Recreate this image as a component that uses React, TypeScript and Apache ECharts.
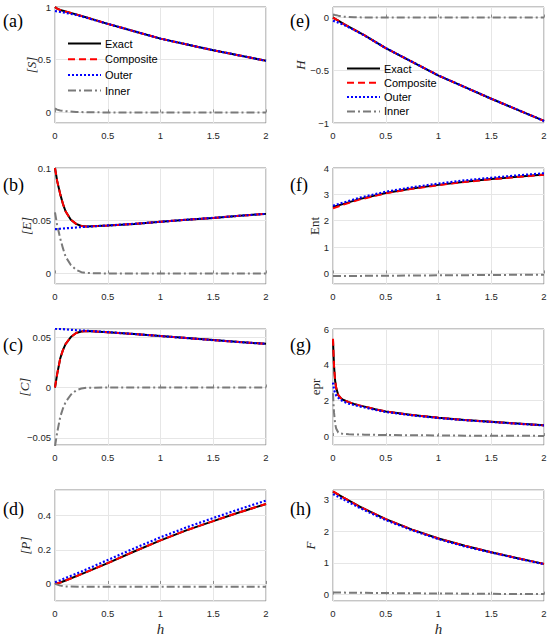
import React, { useEffect, useRef } from "react";
import * as echarts from "echarts";

// ---------- data ----------
// (a) [S]
const hA = [0, 0.02, 0.05, 0.1, 0.2, 0.3, 0.5, 0.75, 1, 1.25, 1.5, 1.75, 2];
const sExact = [1.0, 0.985, 0.972, 0.958, 0.93, 0.9, 0.84, 0.77, 0.7, 0.645, 0.59, 0.54, 0.49];
const sComposite = [1.0, 0.985, 0.971, 0.957, 0.93, 0.9, 0.84, 0.77, 0.7, 0.645, 0.59, 0.54, 0.49];
const sOuter = [0.962, 0.958, 0.953, 0.945, 0.925, 0.898, 0.84, 0.77, 0.7, 0.645, 0.59, 0.54, 0.49];
const sInner = [0.038, 0.027, 0.018, 0.012, 0.005, 0.002, 0, 0, 0, 0, 0, 0, 0];

// (e) H
const hE = [0, 0.02, 0.05, 0.1, 0.2, 0.3, 0.5, 0.75, 1, 1.25, 1.5, 1.75, 2];
const HExact = [0, -0.012, -0.03, -0.06, -0.115, -0.17, -0.29, -0.42, -0.55, -0.66, -0.77, -0.875, -0.98];
const HComposite = [0, -0.012, -0.03, -0.06, -0.115, -0.17, -0.29, -0.42, -0.55, -0.66, -0.77, -0.875, -0.98];
const HOuter = [-0.03, -0.037, -0.048, -0.068, -0.118, -0.171, -0.29, -0.42, -0.55, -0.66, -0.77, -0.875, -0.98];
const HInner = [0.03, 0.025, 0.018, 0.008, 0.003, 0.001, 0, 0, 0, 0, 0, 0, 0];

// (b) [E]
const hB = [0, 0.02, 0.05, 0.075, 0.1, 0.15, 0.2, 0.25, 0.3, 0.5, 0.75, 1, 1.25, 1.5, 1.75, 2];
const eExact = [0.1, 0.088, 0.075, 0.066, 0.059, 0.051, 0.047, 0.045, 0.0445, 0.0455, 0.047, 0.049, 0.051, 0.0527, 0.0547, 0.0565];
const eComposite = [0.1, 0.088, 0.075, 0.066, 0.059, 0.051, 0.047, 0.045, 0.0445, 0.0455, 0.047, 0.049, 0.051, 0.0527, 0.0547, 0.0565];
const eOuter = [0.042, 0.0421, 0.0424, 0.0426, 0.0428, 0.0432, 0.0436, 0.044, 0.0443, 0.0455, 0.047, 0.049, 0.051, 0.0527, 0.0547, 0.0565];
const eInner = [0.058, 0.046, 0.033, 0.024, 0.016, 0.008, 0.0035, 0.0012, 0.0004, 0, 0, 0, 0, 0, 0, 0];

// (f) Ent
const hF = [0, 0.1, 0.25, 0.5, 0.75, 1, 1.25, 1.5, 1.75, 2];
const entExact = [2.52, 2.64, 2.82, 3.05, 3.22, 3.36, 3.48, 3.58, 3.67, 3.75];
const entComposite = [2.47, 2.61, 2.8, 3.04, 3.21, 3.35, 3.47, 3.57, 3.66, 3.74];
const entOuter = [2.57, 2.69, 2.87, 3.1, 3.27, 3.41, 3.53, 3.63, 3.72, 3.8];
const entInner = [-0.1, -0.097, -0.093, -0.086, -0.079, -0.072, -0.065, -0.058, -0.051, -0.045];

// (c) [C]
const hC = [0, 0.02, 0.05, 0.075, 0.1, 0.15, 0.2, 0.25, 0.3, 0.5, 0.75, 1, 1.25, 1.5, 1.75, 2];
const cExact = [0, 0.013, 0.029, 0.037, 0.043, 0.05, 0.054, 0.0555, 0.056, 0.0548, 0.053, 0.051, 0.049, 0.047, 0.045, 0.0433];
const cComposite = [0, 0.013, 0.029, 0.037, 0.043, 0.05, 0.054, 0.0555, 0.056, 0.0548, 0.053, 0.051, 0.049, 0.047, 0.045, 0.0433];
const cOuter = [0.0583, 0.0582, 0.058, 0.0578, 0.0576, 0.0572, 0.0568, 0.0565, 0.0562, 0.0549, 0.053, 0.051, 0.049, 0.047, 0.045, 0.0433];
const cInner = [-0.0583, -0.045, -0.029, -0.0208, -0.0146, -0.0072, -0.0028, -0.001, -0.0002, 0, 0, 0, 0, 0, 0, 0];

// (g) epr
const hG = [0, 0.005, 0.01, 0.02, 0.03, 0.05, 0.075, 0.1, 0.15, 0.2, 0.25, 0.3, 0.4, 0.5, 0.75, 1, 1.25, 1.5, 1.75, 2];
const eprExact = [5.4, 4.6, 3.9, 3.1, 2.7, 2.3, 2.12, 2.02, 1.9, 1.8, 1.72, 1.65, 1.5, 1.38, 1.18, 1.03, 0.9, 0.8, 0.7, 0.6];
const eprComposite = [5.45, 4.6, 3.9, 3.1, 2.7, 2.3, 2.12, 2.02, 1.9, 1.8, 1.72, 1.65, 1.5, 1.38, 1.18, 1.03, 0.9, 0.8, 0.7, 0.6];
const eprOuter = [3.0, 2.8, 2.6, 2.4, 2.28, 2.15, 2.02, 1.93, 1.82, 1.74, 1.67, 1.6, 1.47, 1.35, 1.16, 1.01, 0.89, 0.79, 0.69, 0.6];
const eprInner = [2.4, 1.8, 1.3, 0.7, 0.42, 0.2, 0.14, 0.12, 0.1, 0.09, 0.085, 0.08, 0.07, 0.06, 0.045, 0.035, 0.025, 0.02, 0.015, 0.01];

// (d) [P]
const hD = [0, 0.05, 0.1, 0.25, 0.5, 0.75, 1, 1.25, 1.5, 1.75, 2];
const pExact = [0, 0.008, 0.02, 0.057, 0.122, 0.19, 0.255, 0.315, 0.368, 0.42, 0.468];
const pComposite = [0, 0.008, 0.02, 0.057, 0.122, 0.19, 0.255, 0.315, 0.368, 0.42, 0.468];
const pOuter = [0.01, 0.022, 0.035, 0.072, 0.14, 0.208, 0.273, 0.332, 0.386, 0.438, 0.488];
const pInner = [0, -0.01, -0.015, -0.017, -0.017, -0.017, -0.017, -0.017, -0.017, -0.017, -0.017];

// (h) F
const hH = [0, 0.1, 0.25, 0.5, 0.75, 1, 1.25, 1.5, 1.75, 2];
const fExact = [3.25, 3.06, 2.78, 2.38, 2.05, 1.77, 1.54, 1.34, 1.15, 0.97];
const fComposite = [3.26, 3.06, 2.78, 2.38, 2.05, 1.77, 1.54, 1.34, 1.15, 0.97];
const fOuter = [3.17, 3.0, 2.74, 2.35, 2.03, 1.75, 1.52, 1.33, 1.14, 0.96];
const fInner = [0.07, 0.065, 0.058, 0.05, 0.043, 0.037, 0.031, 0.026, 0.021, 0.017];

const seriesNames = ["Exact", "Composite", "Outer", "Inner"];
const xTickStep = 0.5;

// panels: label, y name, y range, tick step
const panels = [
  { label: "(a)", name: "[S]", italic: true, min: -0.1, max: 1, step: 0.5, h: hA, ys: [sExact, sComposite, sOuter, sInner], col: 0, row: 0, gap: 17 },
  { label: "(b)", name: "[E]", italic: true, min: -0.01, max: 0.1, step: 0.05, h: hB, ys: [eExact, eComposite, eOuter, eInner], col: 0, row: 1, gap: 22.5 },
  { label: "(c)", name: "[C]", italic: true, min: -0.057, max: 0.058, step: 0.05, h: hC, ys: [cExact, cComposite, cOuter, cInner], col: 0, row: 2, gap: 24.5 },
  { label: "(d)", name: "[P]", italic: true, min: -0.1, max: 0.55, step: 0.2, h: hD, ys: [pExact, pComposite, pOuter, pInner], col: 0, row: 3, gap: 23.5 },
  { label: "(e)", name: "H", italic: true, min: -1, max: 0.1, step: 0.5, h: hE, ys: [HExact, HComposite, HOuter, HInner], col: 1, row: 0, gap: 26.5 },
  { label: "(f)", name: "Ent", italic: false, min: -0.4, max: 4, step: 1, h: hF, ys: [entExact, entComposite, entOuter, entInner], col: 1, row: 1, gap: 12.5 },
  { label: "(g)", name: "epr", italic: false, min: -0.5, max: 6, step: 2, h: hG, ys: [eprExact, eprComposite, eprOuter, eprInner], col: 1, row: 2, gap: 11.5 },
  { label: "(h)", name: "F", italic: true, min: -0.2, max: 3.3, step: 1, h: hH, ys: [fExact, fComposite, fOuter, fInner], col: 1, row: 3, gap: 16.5 },
];

// ---------- layout / style ----------
const colLeft = [55, 333];
const rowTop = [7, 168, 329, 490];
const labelTop = [12, 176, 336, 500];
const plotW = 211;
const plotH = 116;
const lineStyles = [
  { color: "#000000", width: 2, type: "solid" as any },
  { color: "#ff0000", width: 2, type: [7, 4] as any },
  { color: "#0000ff", width: 2.2, type: [2, 2] as any },
  { color: "#7a7a7a", width: 2, type: [8, 3, 2, 3] as any },
];
const sansFont = "Liberation Sans, Arial, sans-serif";
const serifFont = "Liberation Serif, Times New Roman, serif";

function fmtTick(v: number, step: number) {
  const k = v / step;
  if (Math.abs(k - Math.round(k)) > 1e-6) return "";
  const val = Math.round(k) * step;
  const s = String(parseFloat(val.toFixed(6)));
  return s.replace("-", "\u2212");
}

export default function App() {
  const ref = useRef<HTMLDivElement>(null);
  useEffect(() => {
    if (!ref.current) return;
    const chart = echarts.init(ref.current, undefined, { renderer: "svg" });
    const grid: any[] = [];
    const xAxis: any[] = [];
    const yAxis: any[] = [];
    const series: any[] = [];
    const graphic: any[] = [];
    panels.forEach((p, i) => {
      grid.push({
        left: colLeft[p.col],
        top: rowTop[p.row],
        width: plotW,
        height: plotH,
        show: true,
        borderColor: "#8c8c8c",
        borderWidth: 1,
        backgroundColor: "#ffffff",
      });
      xAxis.push({
        type: "value",
        gridIndex: i,
        min: 0,
        max: 2,
        interval: xTickStep,
        name: p.row === 3 ? "h" : "",
        nameLocation: "middle",
        nameGap: 20,
        nameMoveOverlap: false,
        nameTextStyle: { fontFamily: serifFont, fontStyle: "italic", fontSize: 15, color: "#262626" },
        axisLine: { show: false },
        axisTick: { show: true, inside: true, length: 3, lineStyle: { color: "#8c8c8c" } },
        splitLine: { show: true, lineStyle: { color: "#e6e6e6", width: 1 } },
        axisLabel: {
          fontFamily: sansFont,
          fontSize: 9.5,
          color: "#262626",
          margin: 7,
          formatter: (v: number) => fmtTick(v, xTickStep),
        },
      });
      yAxis.push({
        type: "value",
        gridIndex: i,
        min: p.min,
        max: p.max,
        minInterval: p.step,
        maxInterval: p.step,
        name: p.name,
        nameLocation: "middle",
        nameGap: p.gap,
        nameMoveOverlap: false,
        nameRotate: 90,
        nameTextStyle: {
          fontFamily: serifFont,
          fontStyle: p.italic ? "italic" : "normal",
          fontSize: 13,
          color: "#262626",
        },
        axisLine: { show: false },
        axisTick: { show: false },
        splitLine: { show: true, lineStyle: { color: "#e6e6e6", width: 1 } },
        axisLabel: {
          fontFamily: sansFont,
          fontSize: 9.5,
          color: "#262626",
          margin: 4,
          formatter: (v: number) => fmtTick(v, p.step),
        },
      });
      p.ys.forEach((ys, k) => {
        series.push({
          type: "line",
          name: seriesNames[k],
          xAxisIndex: i,
          yAxisIndex: i,
          data: p.h.map((h, j) => [h, ys[j]]),
          showSymbol: false,
          symbol: "none",
          smooth: false,
          lineStyle: lineStyles[k],
          itemStyle: { color: lineStyles[k].color },
          z: 2 + k,
        });
      });
      graphic.push({
        type: "text",
        left: p.col === 0 ? 3 : 290,
        top: labelTop[p.row],
        style: { text: p.label, font: `18px ${serifFont}`, fill: "#000" },
      });
    });
    const legendBase = {
      orient: "vertical",
      itemWidth: 33,
      itemHeight: 10,
      padding: 0,
      itemStyle: { opacity: 0 },
      textStyle: { fontFamily: sansFont, fontSize: 11, lineHeight: 10, color: "#000", padding: [0, 0, 0, -1] },
      data: seriesNames,
      selectedMode: false,
    };
    chart.setOption({
      animation: false,
      backgroundColor: "#ffffff",
      grid,
      xAxis,
      yAxis,
      series,
      graphic,
      legend: [
        { ...legendBase, left: 67, top: 38, itemGap: 4.7 },
        { ...legendBase, left: 346, top: 63, itemGap: 3.3 },
      ],
    });
    return () => chart.dispose();
  }, []);
  return (
    <div
      ref={ref}
      style={{ position: "absolute", left: 0, top: 0, width: 550, height: 637 }}
    />
  );
}
